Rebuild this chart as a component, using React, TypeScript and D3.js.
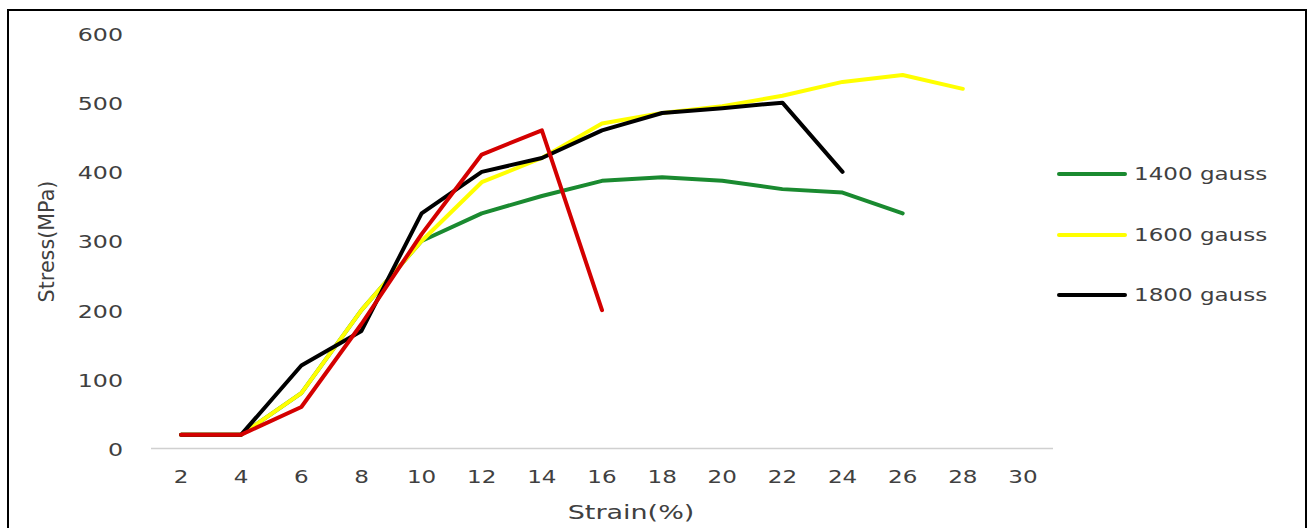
import React from "react";
import * as d3 from "d3";

const strain = [2, 4, 6, 8, 10, 12, 14, 16, 18, 20, 22, 24, 26, 28, 30];
const yTicks = [0, 100, 200, 300, 400, 500, 600];

const g1400 = [20, 20, 80, 200, 300, 340, 365, 387, 392, 387, 375, 370, 340];
const g1600 = [20, 20, 80, 200, 300, 385, 420, 470, 485, 495, 510, 530, 540, 520];
const g1800 = [20, 20, 120, 170, 340, 400, 420, 460, 485, 492, 500, 400];
const gRed = [20, 20, 60, 180, 310, 425, 460, 200];

const series = [
  { name: "1400 gauss", values: g1400, color: "#1a8a30", legend: true },
  { name: "1600 gauss", values: g1600, color: "#ffff00", legend: true },
  { name: "1800 gauss", values: g1800, color: "#000000", legend: true },
  { name: "2000 gauss", values: gRed, color: "#d40000", legend: false },
];

const FONT = "'DejaVu Sans', Verdana, sans-serif";
const TXT = "#404040";

export default function App() {
  const x = d3.scaleBand<number>().domain(strain).range([151, 1053]).padding(0);
  const cx = (v: number) => (x(v) as number) + x.bandwidth() / 2;
  const y = d3.scaleLinear().domain([0, 600]).range([448.5, 33.5]);
  const line = d3
    .line<number>()
    .x((_, i) => cx(strain[i]))
    .y((d) => y(d));

  const legendY = [174, 235, 295];

  return (
    <svg
      width={1312}
      height={528}
      style={{ position: "absolute", left: 0, top: 0, background: "#fff" }}
    >
      <rect x={0} y={0} width={1312} height={528} fill="#fff" />
      <rect x={8} y={10} width={1298} height={540} fill="none" stroke="#000" strokeWidth={2} />

      {/* axis baseline */}
      <line x1={151} x2={1053} y1={y(0)} y2={y(0)} stroke="#d0d0d0" strokeWidth={1.5} />

      {/* y tick labels */}
      {yTicks.map((t) => (
        <text
          key={t}
          transform={`translate(123,${y(t) + 1}) scale(1.32,1)`}
          textAnchor="end"
          dominantBaseline="central"
          fontFamily={FONT}
          fontSize={18}
          fill={TXT}
        >
          {t}
        </text>
      ))}

      {/* x tick labels */}
      {strain.map((s) => (
        <text
          key={s}
          transform={`translate(${cx(s)},477) scale(1.28,1)`}
          textAnchor="middle"
          dominantBaseline="central"
          fontFamily={FONT}
          fontSize={18}
          fill={TXT}
        >
          {s}
        </text>
      ))}

      {/* axis titles */}
      <text
        transform={`translate(631,512) scale(1.35,1)`}
        textAnchor="middle"
        dominantBaseline="central"
        fontFamily={FONT}
        fontSize={20}
        fill={TXT}
      >
        Strain(%)
      </text>
      <text
        transform={`translate(47,241.5) rotate(-90) scale(1.09,1.12)`}
        textAnchor="middle"
        dominantBaseline="central"
        fontFamily={FONT}
        fontSize={19}
        fill={TXT}
      >
        Stress(MPa)
      </text>

      {/* lines */}
      {series.map((s) => (
        <path
          key={s.name}
          d={line(s.values) as string}
          fill="none"
          stroke={s.color}
          strokeWidth={4}
          strokeLinejoin="round"
          strokeLinecap="round"
        />
      ))}

      {/* legend */}
      {series
        .filter((s) => s.legend)
        .map((s, i) => (
          <g key={s.name}>
            <line
              x1={1059}
              x2={1125}
              y1={legendY[i]}
              y2={legendY[i]}
              stroke={s.color}
              strokeWidth={4}
              strokeLinecap="round"
            />
            <text
              transform={`translate(1134,${legendY[i]}) scale(1.28,1)`}
              dominantBaseline="central"
              fontFamily={FONT}
              fontSize={18}
              fill={TXT}
            >
              {s.name}
            </text>
          </g>
        ))}
    </svg>
  );
}
